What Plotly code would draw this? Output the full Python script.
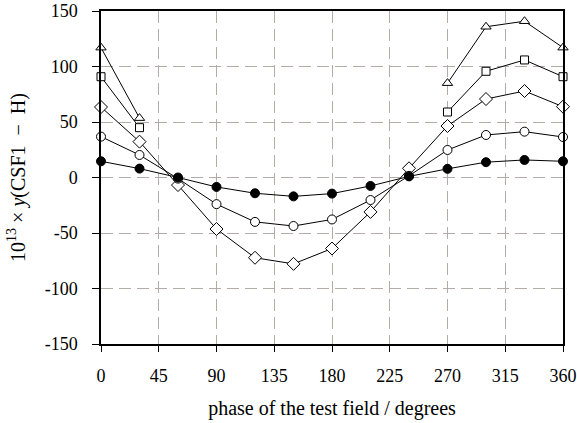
import plotly.graph_objects as go

phase = [0, 30, 60, 90, 120, 150, 180, 210, 240, 270, 300, 330, 360]
filled_circle = [14.6, 8.0, 0.0, -8.5, -14.2, -17.0, -14.5, -7.6, 1.0, 7.8, 13.8, 15.8, 14.6]
open_circle = [36.8, 20.3, -1.0, -24.0, -40.0, -43.7, -37.8, -20.3, 1.5, 24.8, 38.3, 41.3, 36.5]
diamond = [63.5, 32.3, -6.8, -46.4, -72.3, -77.8, -64.0, -31.0, 8.3, 46.4, 70.7, 77.9, 63.8]
square = [90.8, 44.9, None, None, None, None, None, None, None, 59.0, 95.7, 105.9, 90.8]
triangle = [117.0, 53.5, None, None, None, None, None, None, None, 85.0, 135.8, 140.8, 117.0]

x_ticks = [0, 45, 90, 135, 180, 225, 270, 315, 360]
y_ticks = [-150, -100, -50, 0, 50, 100, 150]

FONT = "Liberation Serif"
FS = 18
TS = 20

series = [
    (triangle, "triangle-up", 9, "white"),
    (square, "square", 8, "white"),
    (diamond, "diamond", 10, "white"),
    (open_circle, "circle", 9, "white"),
    (filled_circle, "circle", 9, "black"),
]

fig = go.Figure()
for ys, sym, sz, fill in series:
    fig.add_trace(go.Scatter(
        x=phase, y=ys, mode="lines+markers",
        connectgaps=False, cliponaxis=False,
        line=dict(color="black", width=1),
        marker=dict(symbol=sym, size=sz, color=fill,
                    line=dict(color="black", width=1)),
        showlegend=False,
    ))

grid_color = "#b3aba8"
fig.update_layout(
    width=577, height=423,
    margin=dict(l=101, r=14, t=11, b=79),
    paper_bgcolor="white", plot_bgcolor="white",
    font=dict(family=FONT, size=FS, color="black"),
    xaxis=dict(
        range=[0, 360], tickvals=x_ticks, ticktext=[str(v) for v in x_ticks],
        automargin=False, ticklabeloverflow="allow",
        showgrid=True, gridcolor=grid_color, griddash="12px,6px", gridwidth=1,
        showline=True, linecolor="black", linewidth=1.5, mirror=True,
        ticks="outside", ticklen=6, tickcolor="black", tickwidth=1,
        ticklabelstandoff=9, zeroline=False,
        title=dict(text="phase of the test field / degrees", standoff=16,
                   font=dict(family=FONT, size=TS)),
    ),
    yaxis=dict(
        range=[-150, 150], tickvals=y_ticks, ticktext=[str(v) for v in y_ticks],
        automargin=False, ticklabeloverflow="allow",
        showgrid=True, gridcolor=grid_color, griddash="12px,6px", gridwidth=1,
        showline=True, linecolor="black", linewidth=1.5, mirror=True,
        ticks="outside", ticklen=7, tickcolor="black", tickwidth=1,
        ticklabelstandoff=11, zeroline=False,
        title=dict(text="10<sup>13</sup> × <i>y</i>(CSF1  −  H)", standoff=14,
                   font=dict(family=FONT, size=TS)),
    ),
)

# remove the default page margin so the figure fills the window exactly
fig.write_html(
    "out.html",
    config={"displayModeBar": False},
    post_script="document.body.style.margin='0';document.body.style.overflow='hidden';",
)
